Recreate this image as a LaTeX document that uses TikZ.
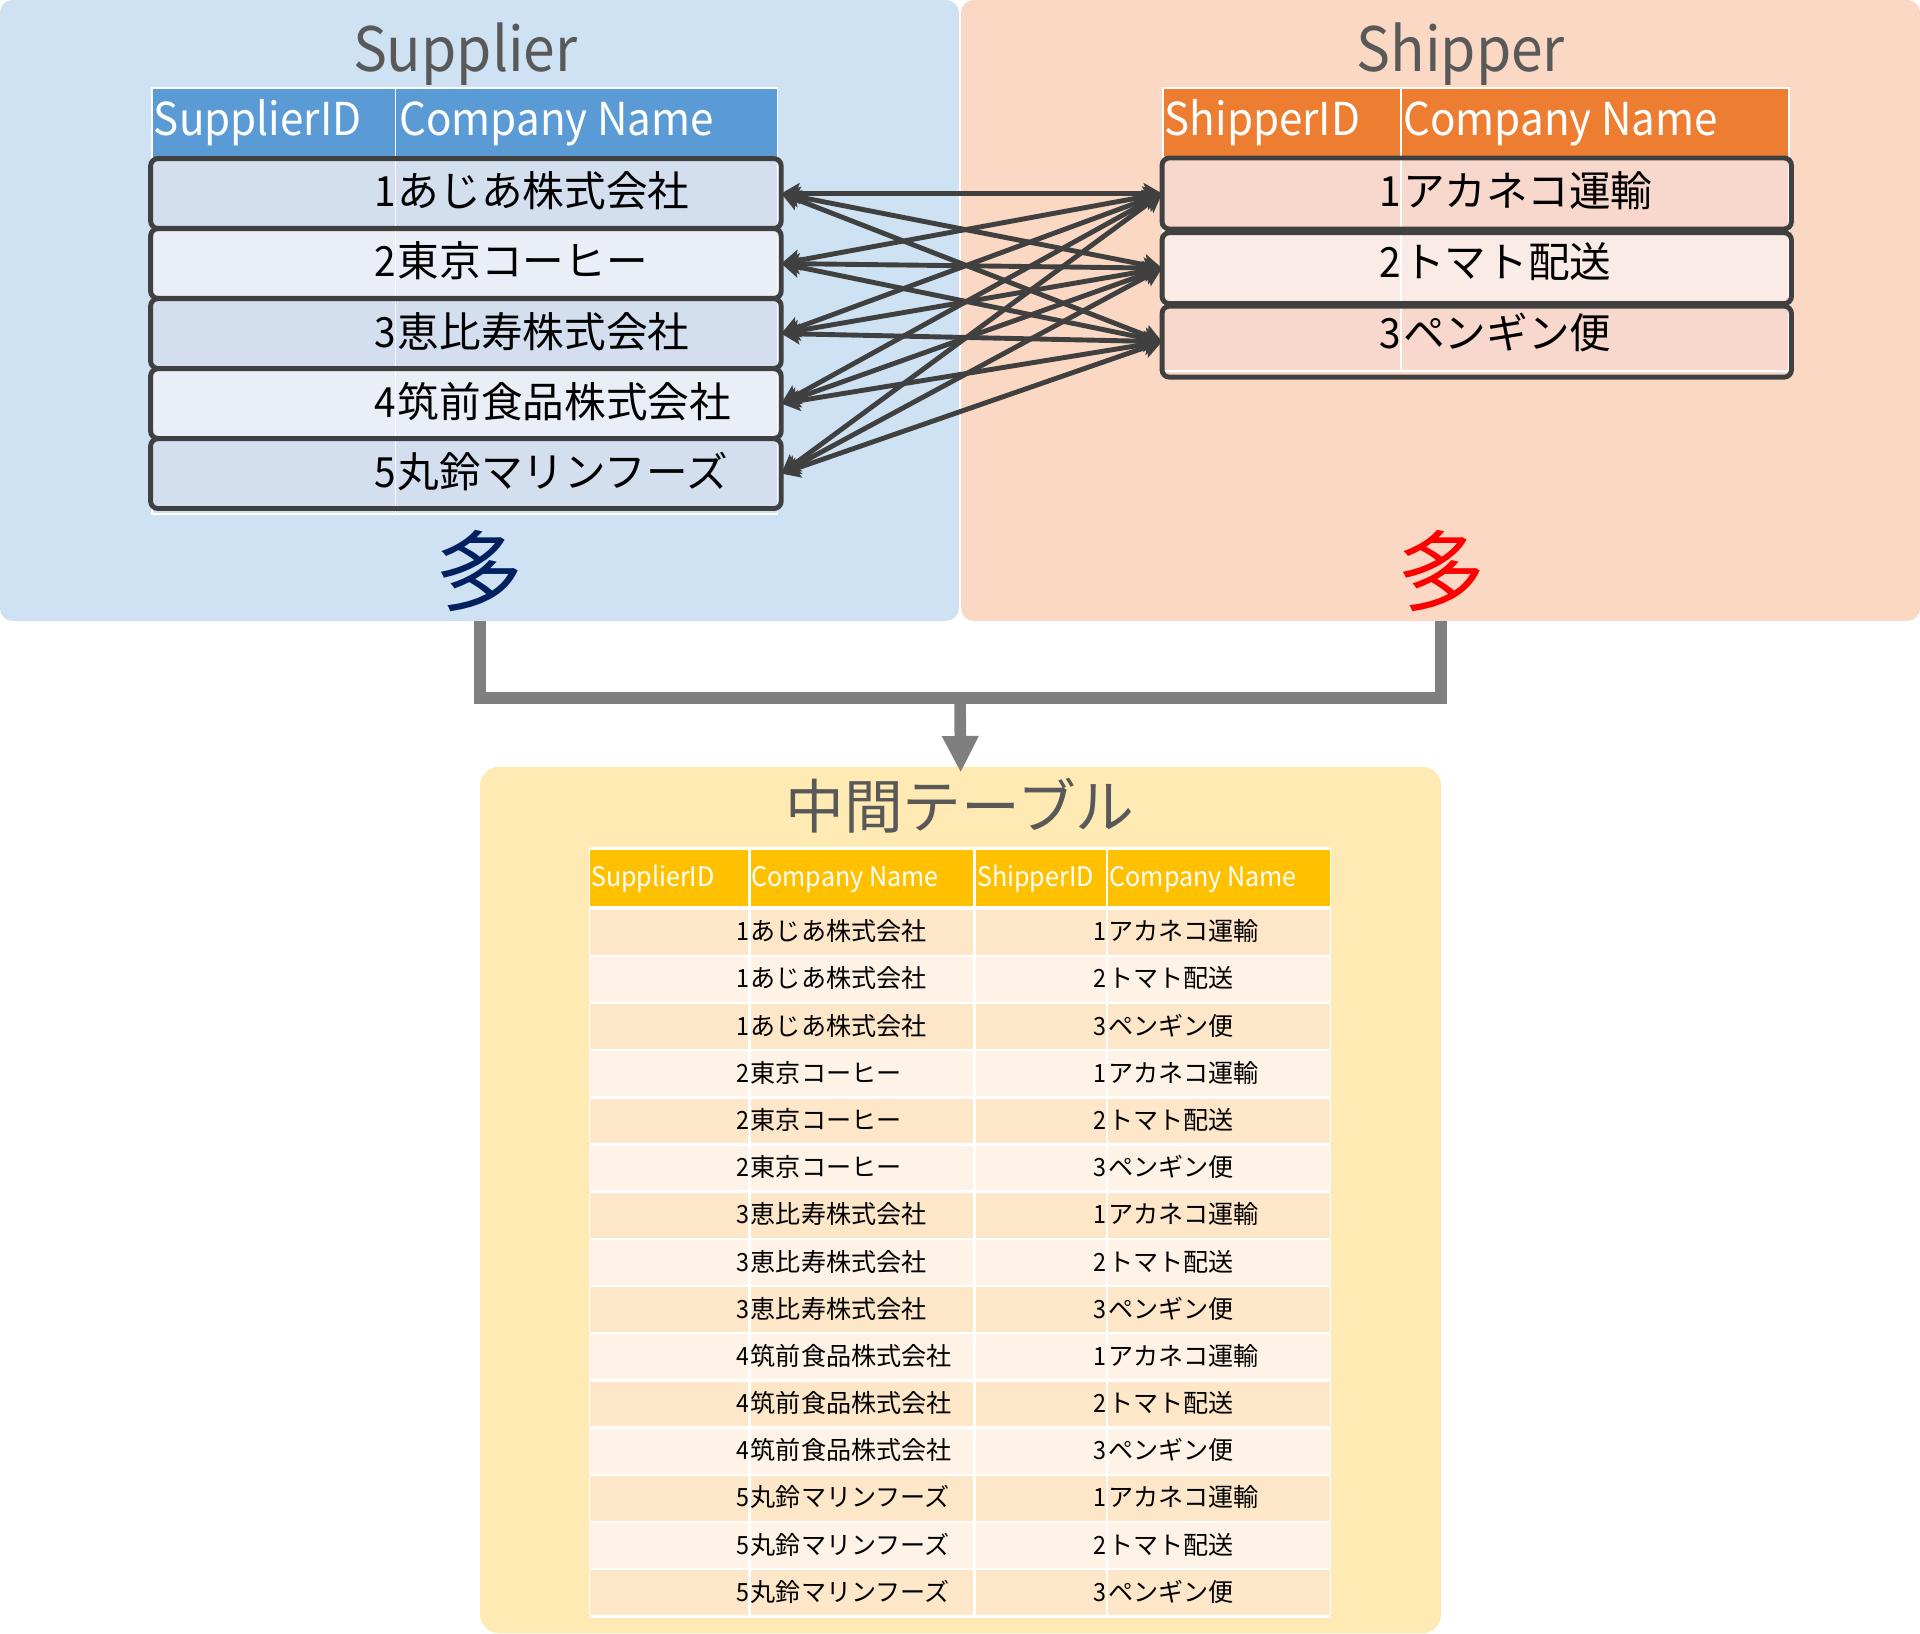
\documentclass[tikz,border=0pt]{standalone}
\usepackage{fontspec}
\setmainfont{Noto Sans CJK JP}
\newfontfamily\narrowlatin[FakeStretch=0.93]{Noto Sans CJK JP}
\usetikzlibrary{positioning}
\usetikzlibrary{arrows.meta}

\definecolor{supbg}{HTML}{CFE2F3}
\definecolor{shpbg}{HTML}{FAD8C3}
\definecolor{midbg}{HTML}{FEEAB2}
\definecolor{suphead}{HTML}{5B9BD5}
\definecolor{supodd}{HTML}{D3DEEF}
\definecolor{supeven}{HTML}{EAEFF7}
\definecolor{shphead}{HTML}{ED7D31}
\definecolor{shpodd}{HTML}{F8D8CD}
\definecolor{shpeven}{HTML}{FBEBE6}
\definecolor{midhead}{HTML}{FFC000}
\definecolor{midodd}{HTML}{FEE6C9}
\definecolor{mideven}{HTML}{FEF3E6}
\definecolor{edgegray}{HTML}{404040}
\definecolor{mergegray}{HTML}{7F7F7F}
\definecolor{titlegray}{HTML}{595959}
\definecolor{manyblue}{HTML}{002060}
\definecolor{manyred}{HTML}{FF0000}

% id right, name left, split at the column line
\newcommand{\supcells}[2]{\makebox[198pt][r]{\narrowlatin #1}\makebox[313pt][l]{\hspace{2pt}#2}}
\newcommand{\shpcells}[2]{\makebox[193pt][r]{\narrowlatin #1}\makebox[317pt][l]{\hspace{2pt}#2}}

\begin{document}
\begin{tikzpicture}[x=1pt,y=-1pt,
  panel/.style={rounded corners=10pt, inner sep=0pt, outer sep=0pt},
  paneltitle/.style={text=titlegray, anchor=base, inner sep=0pt, font=\narrowlatin\fontsize{50}{56}\selectfont},
  headtxt/.style={text=white, anchor=base west, inner sep=0pt, font=\narrowlatin\fontsize{37}{42}\selectfont},
  rowcell/.style={inner sep=0pt, outer sep=2pt, rounded corners=6pt, text height=22pt, text depth=0pt, font=\fontsize{34}{40}\selectfont},
  rowedge/.style={draw=edgegray, line width=4pt, rounded corners=6pt},
  link/.style={<->, >={Stealth[length=15pt,width=17pt,inset=3pt]}, draw=edgegray, line width=4pt},
  many/.style={inner sep=0pt, font=\fontsize{72}{80}\selectfont},
  merge/.style={draw=mergegray, line width=9.5pt},
  midrow/.style={inner sep=0pt, minimum width=604pt, minimum height=36.5pt},
  midtxt/.style={inner sep=0pt, font=\fontsize{20.5}{24}\selectfont},
  midheadtxt/.style={text=white, anchor=base west, inner sep=0pt, font=\narrowlatin\fontsize{22}{26}\selectfont}]

\useasboundingbox (0,0) rectangle (1568,1334);

% panels
\node[panel, fill=supbg, minimum width=783pt, minimum height=507pt] (suppanel) at (391.5,253.5) {};
\node[panel, fill=shpbg, minimum width=783pt, minimum height=507pt] (shppanel) at (1176.5,253.5) {};
\node[panel, rounded corners=16pt, fill=midbg, minimum width=785pt, minimum height=708pt] (midpanel) at (784.5,980) {};

\node[paneltitle] (suptitle) at (380,58) {Supplier};
\node[paneltitle] (shptitle) at (1193,58) {Shipper};
\node[paneltitle, font=\fontsize{48}{54}\selectfont] (midtitle) at (784,677) {中間テーブル};

% Supplier table
\node[fill=suphead, inner sep=0pt, minimum width=511pt, minimum height=56pt] (suphdr) at (379.5,100) {};
\node[headtxt] (suphid) at (125.5,111) {SupplierID};
\node[headtxt] (suphname) at (326,111) {Company Name};
\node[rowcell, fill=supodd, minimum width=511pt, minimum height=53pt] (sup1) at (380.5,158) {\supcells{1}{あじあ株式会社}};
\node[rowcell, fill=supeven, minimum width=511pt, minimum height=53pt] (sup2) at (380.5,215.2) {\supcells{2}{東京コーヒー}};
\node[rowcell, fill=supodd, minimum width=511pt, minimum height=53pt] (sup3) at (380.5,272.4) {\supcells{3}{恵比寿株式会社}};
\node[rowcell, fill=supeven, minimum width=511pt, minimum height=53pt] (sup4) at (380.5,329.6) {\supcells{4}{筑前食品株式会社}};
\node[rowcell, fill=supodd, minimum width=511pt, minimum height=53pt] (sup5) at (380.5,386.8) {\supcells{5}{丸鈴マリンフーズ}};
\draw[white, line width=1.5pt] (124,72) rectangle (635,420);
\draw[white, line width=1.5pt] (323,72) -- (323,420);
\draw[rowedge] (sup1.north west) rectangle (sup1.south east);
\draw[rowedge] (sup2.north west) rectangle (sup2.south east);
\draw[rowedge] (sup3.north west) rectangle (sup3.south east);
\draw[rowedge] (sup4.north west) rectangle (sup4.south east);
\draw[rowedge] (sup5.north west) rectangle (sup5.south east);

% Shipper table
\node[fill=shphead, inner sep=0pt, minimum width=511pt, minimum height=55pt] (shphdr) at (1205.5,99.5) {};
\node[headtxt] (shphid) at (951,111) {ShipperID};
\node[headtxt] (shphname) at (1146,111) {Company Name};
\node[rowcell, fill=shpodd, minimum width=510pt, minimum height=54pt] (shp1) at (1206,158) {};
\node[rowcell, fill=shpeven, minimum width=510pt, minimum height=54pt] (shp2) at (1206,219) {};
\node[rowcell, fill=shpodd, minimum width=510pt, minimum height=54pt] (shp3) at (1206,279) {};
\draw[white, line width=1.5pt] (950,72) rectangle (1461,303);
\draw[white, line width=1.5pt] (1144,72) -- (1144,303);
\node[rowcell] (shptxt1) at (1206,158) {\shpcells{1}{アカネコ運輸}};
\node[rowcell] (shptxt2) at (1206,216) {\shpcells{2}{トマト配送}};
\node[rowcell] (shptxt3) at (1206,274) {\shpcells{3}{ペンギン便}};
\draw[rowedge] (shp1.north west) rectangle (shp1.south east);
\draw[rowedge] (shp2.north west) rectangle (shp2.south east);
\draw[rowedge] (shp3.north west) rectangle (shp3.south east);

% every supplier to every shipper
\draw[link] (sup1.east) -- (shp1.west);
\draw[link] (sup1.east) -- (shp2.west);
\draw[link] (sup1.east) -- (shp3.west);
\draw[link] (sup2.east) -- (shp1.west);
\draw[link] (sup2.east) -- (shp2.west);
\draw[link] (sup2.east) -- (shp3.west);
\draw[link] (sup3.east) -- (shp1.west);
\draw[link] (sup3.east) -- (shp2.west);
\draw[link] (sup3.east) -- (shp3.west);
\draw[link] (sup4.east) -- (shp1.west);
\draw[link] (sup4.east) -- (shp2.west);
\draw[link] (sup4.east) -- (shp3.west);
\draw[link] (sup5.east) -- (shp1.west);
\draw[link] (sup5.east) -- (shp2.west);
\draw[link] (sup5.east) -- (shp3.west);

\node[many, text=manyblue] (supmany) at (392,466) {多};
\node[many, text=manyred] (shpmany) at (1177,466) {多};

% into the middle table
\coordinate (join) at (784,570);
\draw[merge] (supmany |- suppanel.south) |- (join);
\draw[merge] (shpmany |- shppanel.south) |- (join);
\draw[merge, -{Triangle[length=30pt,width=28pt]}, shorten >=-5pt] (join) -- (midpanel.north);

% middle table
\node[fill=white, inner sep=0pt, minimum width=606pt, minimum height=630pt] (midtable) at (784,1006.5) {};
\node[fill=midhead, inner sep=0pt, minimum width=604pt, minimum height=46pt] (midhdr) at (784,717) {};
\node[midheadtxt] (mhsid) at (482.5,724) {SupplierID};
\node[midheadtxt] (mhsname) at (613.5,724) {Company Name};
\node[midheadtxt] (mhhid) at (798,724) {ShipperID};
\node[midheadtxt] (mhhname) at (906,724) {Company Name};
\foreach \s/\sname in {1/あじあ株式会社,2/東京コーヒー,3/恵比寿株式会社,4/筑前食品株式会社,5/丸鈴マリンフーズ}{
  \foreach \h/\hname in {1/アカネコ運輸,2/トマト配送,3/ペンギン便}{
    \pgfmathtruncatemacro\r{3*(\s-1)+\h}
    \pgfmathsetmacro\yc{742+38.53*(\r-0.5)}
    \ifodd\r\def\rowcol{midodd}\else\def\rowcol{mideven}\fi
    \node[midrow, fill=\rowcol] (row\r) at (784,\yc) {};
    \node[midtxt, anchor=base east, font=\narrowlatin\fontsize{20.5}{24}\selectfont] (sid\r) at (612,\yc+7) {\s};
    \node[midtxt, anchor=base west] (sname\r) at (613,\yc+7) {\sname};
    \node[midtxt, anchor=base east, font=\narrowlatin\fontsize{20.5}{24}\selectfont] (hid\r) at (904,\yc+7) {\h};
    \node[midtxt, anchor=base west] (hname\r) at (905,\yc+7) {\hname};
  }
}
\draw[white, line width=2pt] (612,692) -- (612,1321);
\draw[white, line width=2pt] (796,692) -- (796,1321);
\draw[white, line width=2pt] (904,692) -- (904,1321);
\end{tikzpicture}
\end{document}
